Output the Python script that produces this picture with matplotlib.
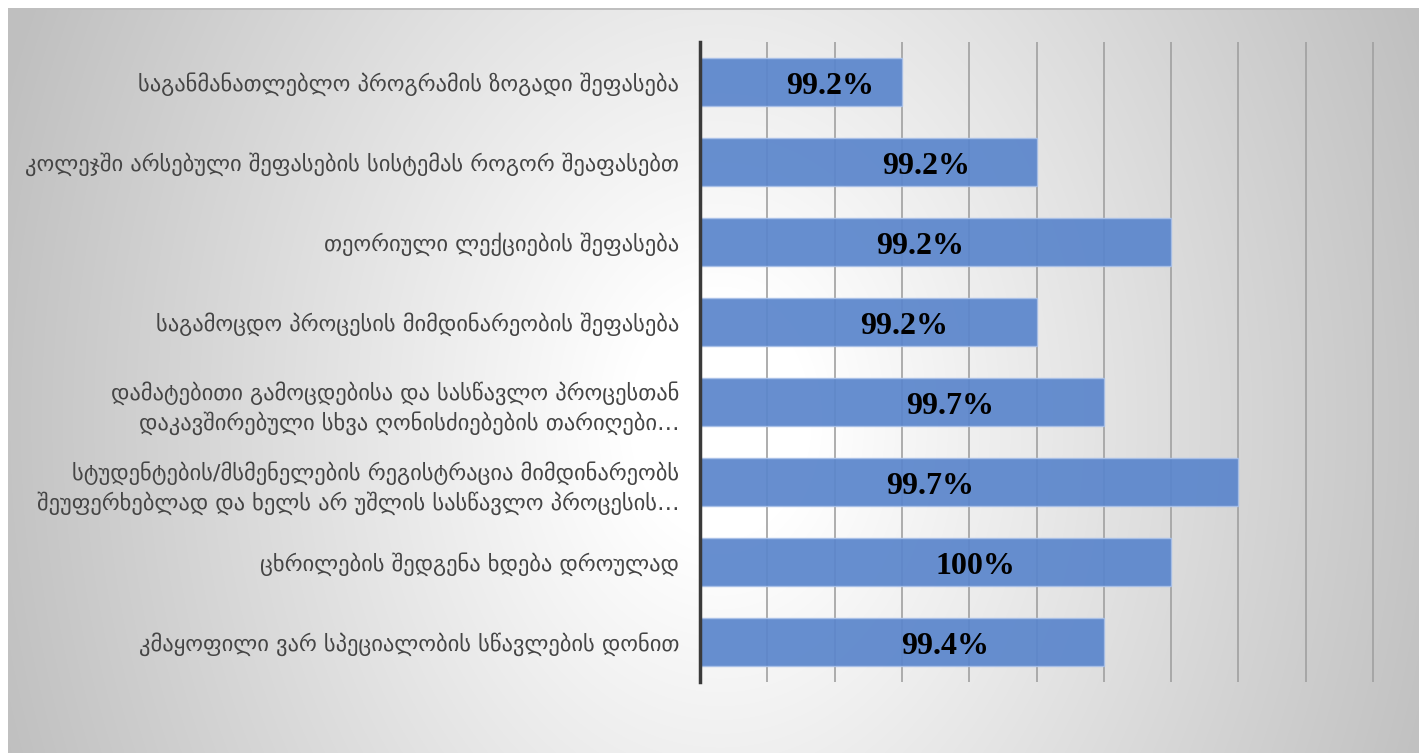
import numpy as np
import matplotlib
matplotlib.use("Agg")
import matplotlib.pyplot as plt

categories = [
    "საგანმანათლებლო პროგრამის ზოგადი შეფასება",
    "კოლეჯში არსებული შეფასების სისტემას როგორ შეაფასებთ",
    "თეორიული ლექციების შეფასება",
    "საგამოცდო პროცესის მიმდინარეობის შეფასება",
    "დამატებითი გამოცდებისა და სასწავლო პროცესთან\nდაკავშირებული სხვა ღონისძიებების თარიღები…",
    "სტუდენტების/მსმენელების რეგისტრაცია მიმდინარეობს\nშეუფერხებლად და ხელს არ უშლის სასწავლო პროცესის…",
    "ცხრილების შედგენა ხდება დროულად",
    "კმაყოფილი ვარ სპეციალობის სწავლების დონით",
]
bar_values = [3, 5, 7, 5, 6, 8, 7, 6]
value_labels = ["99.2%", "99.2%", "99.2%", "99.2%", "99.7%", "99.7%", "100%", "99.4%"]
label_x = [1.93, 3.36, 3.27, 3.04, 3.71, 3.42, 4.09, 3.64]
grid_ticks = list(range(1, 11))

W, H = 1419, 753
fig = plt.figure(figsize=(W / 100, H / 100), dpi=100)
fig.patch.set_facecolor("white")

# background gradient panel
bg = fig.add_axes([0, 0, 1, 1], zorder=-10)
xx, yy = np.meshgrid(np.arange(W), np.arange(H))
t = np.sqrt(((xx - 720) / 760.0) ** 2 + ((yy - 420) / 1000.0) ** 2)
v = 1 - 0.25 * np.clip((t - 0.12) / 0.88, 0, 1)
img = np.stack([v, v, v], axis=-1)
img[:8, :, :] = 1.0
img[:, :8, :] = 1.0
img[8:10, 8:, :] = 0.75
bg.imshow(img, extent=[0, W, H, 0], aspect="auto", interpolation="bilinear")
bg.set_xlim(0, W)
bg.set_ylim(H, 0)
bg.axis("off")

unit = 67.3
x0 = 700
xmax = 10.5
ax = fig.add_axes([x0 / W, (H - 682) / H, xmax * unit / W, (682 - 42) / H])
ax.patch.set_alpha(0)

n = len(categories)
ypos = np.arange(n)
for g in grid_ticks:
    ax.axvline(g, color="#a0a0a0", lw=1.2, zorder=1)

ax.barh(ypos, bar_values, height=0.6, color="#5b86cc", edgecolor="#a9c0e8",
        linewidth=1, alpha=0.93, zorder=2)

for y, lx, lab in zip(ypos, label_x, value_labels):
    ax.text(lx, y + 0.05, lab, ha="center", va="center", fontsize=23,
            fontweight="bold", family="Liberation Serif", color="black", zorder=3)

ax.set_xlim(0, xmax)
ax.set_ylim(n - 0.5, -0.5)
ax.set_xticks([])
ax.set_yticks(ypos)
ax.set_yticklabels(categories, fontsize=16.2, color="#454545", family="DejaVu Sans",
                   linespacing=1.38)
ax.tick_params(axis="y", length=0, pad=15)
for s in ["top", "right", "bottom"]:
    ax.spines[s].set_visible(False)
ax.spines["left"].set_color("#3a3a3a")
ax.spines["left"].set_linewidth(2.5)
ax.spines["left"].set_zorder(4)

fig.savefig("out.png", dpi=100)
